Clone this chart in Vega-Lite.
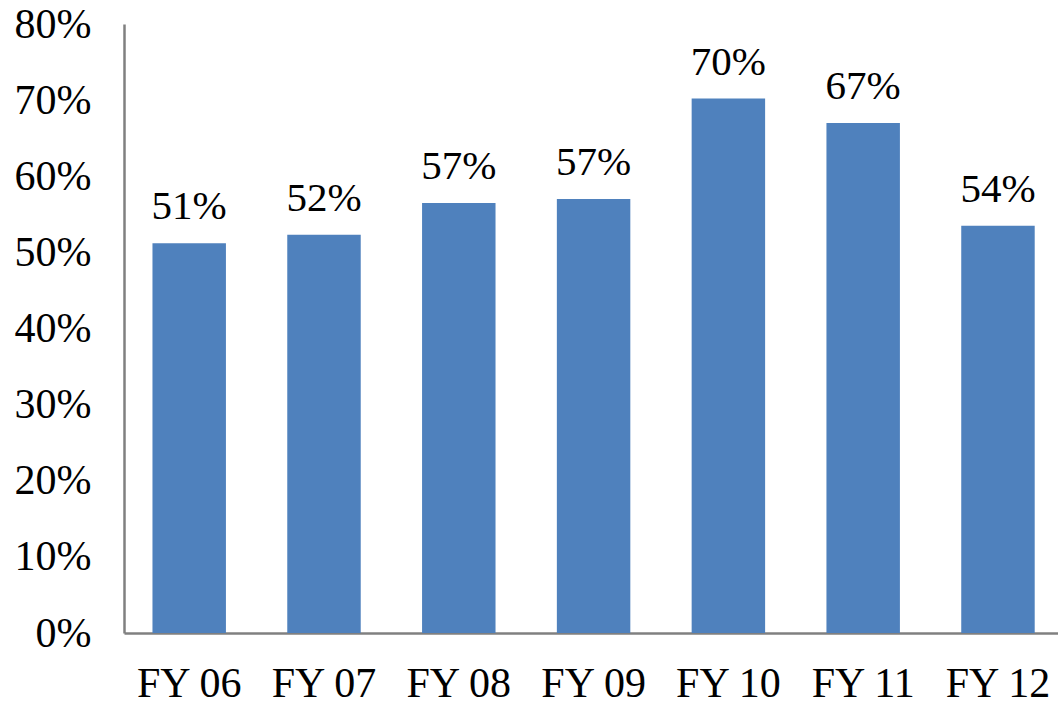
{
  "$schema": "https://vega.github.io/schema/vega-lite/v6.json",
  "width": 934,
  "height": 609,
  "autosize": {"type": "none"},
  "padding": {"left": 124, "top": 24, "right": 0, "bottom": 75},
  "background": "white",
  "config": {"view": {"stroke": null}, "font": "Liberation Serif"},
  "data": {
    "values": [
      {"year": "FY 06", "value": 51.2, "label": "51%"},
      {"year": "FY 07", "value": 52.3, "label": "52%"},
      {"year": "FY 08", "value": 56.5, "label": "57%"},
      {"year": "FY 09", "value": 57.0, "label": "57%"},
      {"year": "FY 10", "value": 70.2, "label": "70%"},
      {"year": "FY 11", "value": 67.0, "label": "67%"},
      {"year": "FY 12", "value": 53.5, "label": "54%"}
    ]
  },
  "encoding": {
    "x": {
      "field": "year",
      "type": "nominal",
      "sort": null,
      "scale": {"paddingInner": 0.455, "paddingOuter": 0.192, "align": 0.55},
      "axis": {
        "title": null,
        "labelAngle": 0,
        "labelFont": "Liberation Serif",
        "labelFontSize": 42,
        "labelColor": "black",
        "labelPadding": 30,
        "ticks": false,
        "domainColor": "#808080",
        "domainWidth": 2.5,
        "grid": false
      }
    },
    "y": {
      "field": "value",
      "type": "quantitative",
      "scale": {"domain": [0, 80], "nice": false},
      "axis": {
        "title": null,
        "values": [0, 10, 20, 30, 40, 50, 60, 70, 80],
        "labelExpr": "datum.value + '%'",
        "labelFont": "Liberation Serif",
        "labelFontSize": 42,
        "labelColor": "black",
        "labelPadding": 33,
        "ticks": false,
        "grid": false,
        "domainColor": "#808080",
        "domainWidth": 2.5
      }
    }
  },
  "layer": [
    {"mark": {"type": "bar", "color": "#4f81bd"}},
    {
      "mark": {
        "type": "text",
        "baseline": "alphabetic",
        "dy": -24,
        "font": "Liberation Serif",
        "fontSize": 41,
        "color": "black"
      },
      "encoding": {"text": {"field": "label"}}
    }
  ]
}
